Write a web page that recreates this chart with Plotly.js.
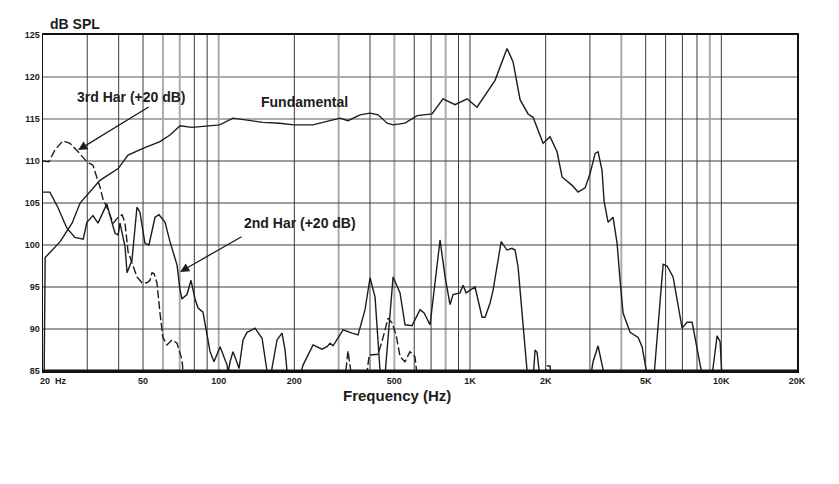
<!DOCTYPE html>
<html><head><meta charset="utf-8">
<script src="https://cdn.plot.ly/plotly-3.0.1.min.js"></script>
<style>html,body{margin:0;padding:0;background:#fff}#c{width:839px;height:484px}</style>
</head><body><div id="c"></div>
<script>
// Fundamental
const fundF = [20.2, 20.4, 23.4, 26.1, 28.1, 30.8, 33.7, 39.8, 43.6, 50, 58.4, 64, 70.2, 78.3, 89.9, 101, 114, 133, 150, 175, 199, 237, 277, 304, 327, 365, 400, 431, 468, 494, 551, 616, 706, 781, 872, 974, 1066, 1169, 1258, 1404, 1484, 1582, 1702, 1782, 1953, 2082, 2220, 2324, 2548, 2692, 2871, 3004, 3146, 3233, 3352, 3416, 3544, 3710, 3848, 3954, 4064, 4335, 4665, 4838, 5018, 5100];
const fundDb = [84, 98.5, 100.4, 102.6, 105, 106.3, 107.7, 109.1, 110.7, 111.5, 112.3, 113.1, 114.2, 114.0, 114.2, 114.3, 115.1, 114.8, 114.6, 114.5, 114.3, 114.3, 114.8, 115.1, 114.8, 115.5, 115.7, 115.5, 114.5, 114.3, 114.5, 115.4, 115.6, 117.4, 116.7, 117.4, 116.4, 118.2, 119.6, 123.4, 121.8, 117.3, 115.6, 115.2, 112.1, 112.9, 111.1, 108.1, 107.1, 106.3, 106.8, 108.5, 110.9, 111.1, 108.9, 105.2, 102.7, 103.3, 100.2, 95.8, 91.9, 89.6, 89.0, 87.9, 85.1, 84];

// 2nd harmonic (+20 dB)
const h2F = [20, 21.3, 22.9, 24.9, 26.8, 28.9, 29.9, 31.6, 33.1, 35.9, 37.6, 38.7, 39.8, 40.5, 42.4, 43.2, 45.2, 47.3, 48.6, 50.9, 52.8, 55.8, 57.9, 61.2, 64.0, 68.3, 70.2, 71.5, 74.8, 77.6, 80.5, 82.8, 86.6, 92.4, 95.8, 101.3, 108, 109, 111, 114, 118.3, 120.5, 125, 129.7, 135.8, 139.5, 148.8, 151.5, 155.7, 160, 170.7, 178.7, 183.7, 187, 200, 210.8, 216.6, 237.4, 257.8, 269.8, 277.4, 285.2, 298.6, 312.6, 339.4, 358.6, 382.2, 400.2, 419, 438.6, 445, 459, 494.2, 526.8, 551.4, 588, 632.8, 656.4, 693.4, 760, 795.8, 833, 856, 912.8, 938.4, 964.8, 1047, 1117, 1148, 1202, 1235, 1330, 1404, 1470, 1511, 1553, 1687, 1734, 1782, 1815, 1849, 1900, 3004, 3088, 3233, 3448, 5400, 5866, 6084, 6428, 6980, 7308, 7650, 8386, 9190, 9620, 9886, 10070];
const h2Db = [106.3, 106.3, 104.5, 102, 100.9, 100.7, 102.7, 103.5, 102.6, 104.9, 102.7, 101.4, 101.2, 102.6, 99.8, 96.7, 98.2, 104.5, 103.9, 100.2, 100.0, 103.3, 103.6, 102.7, 100.4, 97.6, 94.6, 93.6, 94.1, 95.8, 93.6, 92.5, 92.0, 87.3, 86.1, 87.9, 85.7, 84.8, 86.1, 87.3, 86, 85.3, 88.7, 89.6, 89.9, 90.1, 88.9, 87.1, 85, 84, 88.7, 89.5, 87.5, 85, 84, 84.5, 85.7, 88.1, 87.6, 87.9, 88.3, 88.0, 89.0, 89.9, 89.5, 89.3, 92.3, 96.1, 93.8, 85, 84, 84.5, 96.2, 94.3, 90.5, 90.4, 92.3, 91.9, 90.5, 100.6, 96.2, 92.9, 94.1, 94.3, 95.2, 94.3, 95.0, 91.4, 91.4, 93.1, 94.6, 100.4, 99.4, 99.6, 99.4, 97.4, 85, 84, 84, 87.5, 87.2, 84, 84, 86.1, 88, 84, 84.5, 97.7, 97.5, 96.2, 90.1, 90.8, 90.8, 84.5, 84.5, 89.2, 88.5, 84];

// 3rd harmonic (+20 dB)
const h3F = [20, 21.1, 22.3, 24.0, 25.6, 27.6, 29.9, 31.6, 33.7, 34.7, 35.9, 37.0, 38.0, 39.8, 41.3, 42.4, 43.6, 45.2, 47.3, 49.5, 51.9, 53.3, 54.3, 55.3, 56.8, 58.4, 60.0, 62.3, 65.2, 68.3, 71.5, 72.1, 74, 318, 327, 339, 386, 397, 431, 451, 472, 490, 508, 527, 551, 577, 604, 616, 630, 2000, 2026, 2082, 2100];
const h3Db = [110, 109.9, 111.3, 112.4, 112.1, 111.1, 109.9, 109.5, 106.9, 105.4, 104.5, 103.6, 102.6, 103.3, 103.6, 102.6, 99.2, 97.9, 96.2, 95.5, 95.5, 95.8, 96.7, 96.6, 95.5, 91.9, 89.0, 88.1, 88.7, 88.3, 86.3, 85, 84, 84, 87.4, 84, 84, 86.9, 87.0, 89, 91.3, 90.7, 89.3, 86.7, 86.1, 87.3, 86.7, 84.5, 84, 84, 85.6, 85.6, 84];

// Axis ticks and grid
const xTickVals = [20, 50, 100, 200, 500, 1000, 2000, 5000, 10000, 20000];
const xTickText = ["\u00a0\u00a0\u00a0\u00a0\u00a0\u00a0\u00a0\u00a020\u00a0\u00a0Hz", "50", "100", "200", "500", "1K", "2K", "5K", "10K", "20K"];
const yTickVals = [85, 90, 95, 100, 105, 110, 115, 120, 125];
const xGridDark = [30, 40, 50, 80, 90, 200, 400, 600, 700, 900, 1000, 2000, 3000, 5000, 6000, 7000, 8000, 10000];
const xGridGray = [60, 70, 100, 300, 500, 800, 4000, 9000];
const yGridDark = [90, 95, 100, 105, 110];
const yGridGray = [115, 120];

const ink = '#1c1c1c';
const shapes = [];
xGridGray.forEach(v => shapes.push({type:'line', xref:'x', yref:'paper', x0:v, x1:v, y0:0, y1:1, layer:'below', line:{color:'#ababab', width:2}}));
yGridGray.forEach(v => shapes.push({type:'line', xref:'paper', yref:'y', x0:0, x1:1, y0:v, y1:v, layer:'below', line:{color:'#ababab', width:2}}));
xGridDark.forEach(v => shapes.push({type:'line', xref:'x', yref:'paper', x0:v, x1:v, y0:0, y1:1, layer:'below', line:{color:'#3c3c3c', width:1}}));
yGridDark.forEach(v => shapes.push({type:'line', xref:'paper', yref:'y', x0:0, x1:1, y0:v, y1:v, layer:'below', line:{color:'#3c3c3c', width:1}}));
// heavier bottom frame edge
shapes.push({type:'line', xref:'paper', yref:'paper', x0:0, x1:1, y0:0, y1:0, layer:'above', line:{color:'#111', width:3}});

const traces = [
  {x: fundF, y: fundDb, type:'scatter', mode:'lines', name:'Fundamental', line:{color:ink, width:1.4}},
  {x: h2F, y: h2Db, type:'scatter', mode:'lines', name:'2nd Har (+20 dB)', line:{color:ink, width:1.4}},
  {x: h3F, y: h3Db, type:'scatter', mode:'lines', name:'3rd Har (+20 dB)', line:{color:ink, width:1.4, dash:'8px,3px'}}
];

const L = Math.log10;
const bold = 'Liberation Sans, Arial, sans-serif';
const layout = {
  width: 839, height: 484,
  margin: {l:43, r:42, t:35, b:113},
  paper_bgcolor:'#fff', plot_bgcolor:'#fff',
  showlegend:false,
  font:{family:bold, color:ink},
  xaxis:{type:'log', range:[L(20), L(20000)], tickvals:xTickVals, ticktext:xTickText, showgrid:false, zeroline:false,
         showline:true, mirror:true, linecolor:'#111', linewidth:2, ticks:'',
         tickfont:{family:bold, size:9, color:ink, weight:'bold'}},
  yaxis:{range:[85,125], tickvals:yTickVals, showgrid:false, zeroline:false, showline:true, mirror:true,
         linecolor:'#111', linewidth:1.5, ticks:'', tickfont:{family:bold, size:9, color:ink, weight:'bold'}},
  shapes: shapes,
  annotations:[
    {xref:'paper', yref:'paper', x:(48-43)/754, y:(371-24)/336, xanchor:'left', yanchor:'middle', text:'<b>dB SPL</b>', showarrow:false, font:{size:14, color:ink}},
    {xref:'paper', yref:'paper', x:(397-43)/754, y:(371-395)/336, xanchor:'center', yanchor:'middle', text:'<b>Frequency (Hz)</b>', showarrow:false, font:{size:15, color:ink}},
    {xref:'x', yref:'y', x:L(44.8), y:117.6, text:'<b>3rd Har (+20 dB)</b>', showarrow:false, font:{size:14, color:ink}},
    {xref:'x', yref:'y', x:L(218.6), y:117.0, text:'<b>Fundamental</b>', showarrow:false, font:{size:14, color:ink}},
    {xref:'x', yref:'y', x:L(210.8), y:102.6, text:'<b>2nd Har (+20 dB)</b>', showarrow:false, font:{size:14, color:ink}},
    {xref:'x', yref:'y', x:L(27.6), y:111.3, ax:72, ay:-44, text:'', showarrow:true, arrowhead:2, arrowsize:1.4, arrowwidth:1.3, arrowcolor:ink},
    {xref:'x', yref:'y', x:L(70.2), y:96.8, ax:63, ay:-36, text:'', showarrow:true, arrowhead:2, arrowsize:1.4, arrowwidth:1.3, arrowcolor:ink}
  ]
};
Plotly.newPlot('c', traces, layout, {displayModeBar:false, staticPlot:true});
</script></body></html>
